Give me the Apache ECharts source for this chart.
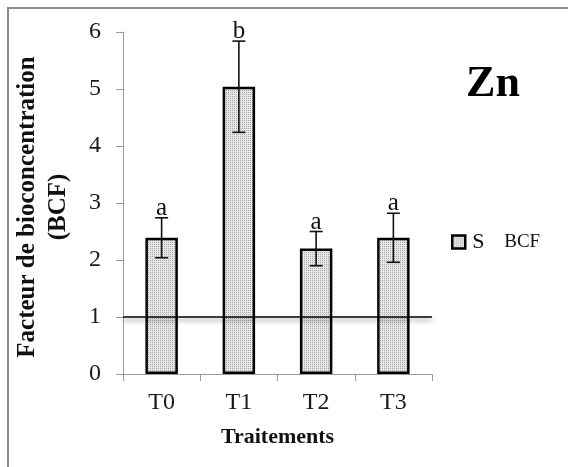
<!DOCTYPE html>
<html>
<head>
<meta charset="utf-8">
<script src="https://cdn.jsdelivr.net/npm/echarts@6/dist/echarts.min.js"></script>
<style>
html,body{margin:0;padding:0;background:#fff;}
#chart{width:568px;height:467px;}
</style>
</head>
<body>
<div id="chart"></div>
<script>
var categories = ['T0', 'T1', 'T2', 'T3'];
var bcfValues = [2.39, 5.04, 2.2, 2.39];
var bcfErrors = [0.35, 0.80, 0.30, 0.43];
var letters = ['a', 'b', 'a', 'a'];
var yTicks = [0, 1, 2, 3, 4, 5, 6];
var thresholdValue = 1;
var yTitle = 'Facteur de bioconcentration\n(BCF)';

var SERIF = "'Liberation Serif', 'Times New Roman', serif";

// fine stipple fill pattern
var pat = document.createElement('canvas');
pat.width = 2; pat.height = 2;
var pc = pat.getContext('2d');
pc.fillStyle = '#e6e6e6';
pc.fillRect(0, 0, 2, 2);
pc.fillStyle = '#a9a9a9';
pc.fillRect(0, 0, 1, 1);

var chart = echarts.init(document.getElementById('chart'), null, {renderer: 'canvas'});

var errData = categories.map(function (c, i) { return [i, bcfValues[i], bcfErrors[i]]; });

var option = {
  animation: false,
  backgroundColor: '#fff',
  grid: {left: 123, right: 136, top: 32, bottom: 93, containLabel: false, outerBoundsMode: 'none'},
  legend: {
    left: 451, top: 231,
    itemWidth: 13, itemHeight: 13,
    itemGap: 4,
    padding: 0,
    data: [{name: 'S BCF', icon: 'rect'}],
    itemStyle: {color: {image: pat, repeat: 'repeat'}, borderColor: '#000', borderWidth: 2.5},
    formatter: function () { return '{s|S}{b|BCF}'; },
    textStyle: {
      padding: [0, 0, 0, 2],
      rich: {
        s: {fontFamily: SERIF, fontSize: 22, color: '#111', width: 32},
        b: {fontFamily: SERIF, fontSize: 19, color: '#111'}
      }
    }
  },
  xAxis: {
    type: 'category',
    data: categories,
    boundaryGap: true,
    axisLine: {show: true, lineStyle: {color: '#9a9a9a', width: 1}},
    axisTick: {show: true, length: 7, alignWithLabel: false, lineStyle: {color: '#9a9a9a'}},
    axisLabel: {fontFamily: SERIF, fontSize: 24, color: '#1a1a1a', margin: 17},
    name: 'Traitements',
    nameLocation: 'middle',
    nameGap: 52,
    nameTextStyle: {fontFamily: SERIF, fontSize: 22, fontWeight: 'bold', color: '#111'}
  },
  yAxis: {
    type: 'value',
    min: yTicks[0], max: yTicks[yTicks.length - 1], interval: 1,
    splitLine: {show: false},
    axisLine: {show: true, lineStyle: {color: '#9a9a9a', width: 1}},
    axisTick: {show: true, length: 7, lineStyle: {color: '#9a9a9a'}},
    axisLabel: {fontFamily: SERIF, fontSize: 24, color: '#1a1a1a', margin: 22}
  },
  graphic: [
    {type: 'rect', shape: {x: 8, y: 8, width: 620, height: 520}, style: {fill: 'none', stroke: '#8c8c8c', lineWidth: 2}, z: 100},
    {type: 'text', x: 493, y: 85, style: {text: 'Zn', font: "bold 44px 'Liberation Serif', serif", fill: '#000', align: 'center', verticalAlign: 'middle'}},
    {type: 'text', x: 43, y: 207, rotation: Math.PI / 2,
      style: {text: yTitle, font: "bold 25px 'Liberation Serif', serif", lineHeight: 31, fill: '#111', align: 'center', verticalAlign: 'middle'}}
  ],
  series: [
    {
      name: 'S BCF',
      type: 'bar',
      data: bcfValues,
      barWidth: '42%',
      itemStyle: {color: {image: pat, repeat: 'repeat'}, borderColor: '#000', borderWidth: 2.5},
      z: 2
    },
    {
      name: 'err',
      type: 'custom',
      data: errData,
      z: 5,
      renderItem: function (params, api) {
        var i = api.value(0), v = api.value(1), e = api.value(2);
        var hi = api.coord([i, v + e]);
        var lo = api.coord([i, v - e]);
        var w = 6.5;
        var st = {stroke: '#111', lineWidth: 1.6};
        return {
          type: 'group',
          children: [
            {type: 'line', shape: {x1: hi[0], y1: hi[1], x2: lo[0], y2: lo[1]}, style: st},
            {type: 'line', shape: {x1: hi[0] - w, y1: hi[1], x2: hi[0] + w, y2: hi[1]}, style: st},
            {type: 'line', shape: {x1: lo[0] - w, y1: lo[1], x2: lo[0] + w, y2: lo[1]}, style: st},
            {type: 'text', x: hi[0], y: hi[1] + 3, style: {text: letters[params.dataIndex], font: "25px 'Liberation Serif', serif", fill: '#111', align: 'center', verticalAlign: 'bottom'}}
          ]
        };
      },
      markLine: {
        silent: true,
        symbol: ['none', 'none'],
        label: {show: false},
        lineStyle: {color: '#000', width: 1.6, type: 'solid', shadowColor: 'rgba(0,0,0,0.45)', shadowBlur: 4, shadowOffsetY: 3},
        data: [{yAxis: thresholdValue}]
      }
    }
  ]
};
chart.setOption(option);
</script>
</body>
</html>
